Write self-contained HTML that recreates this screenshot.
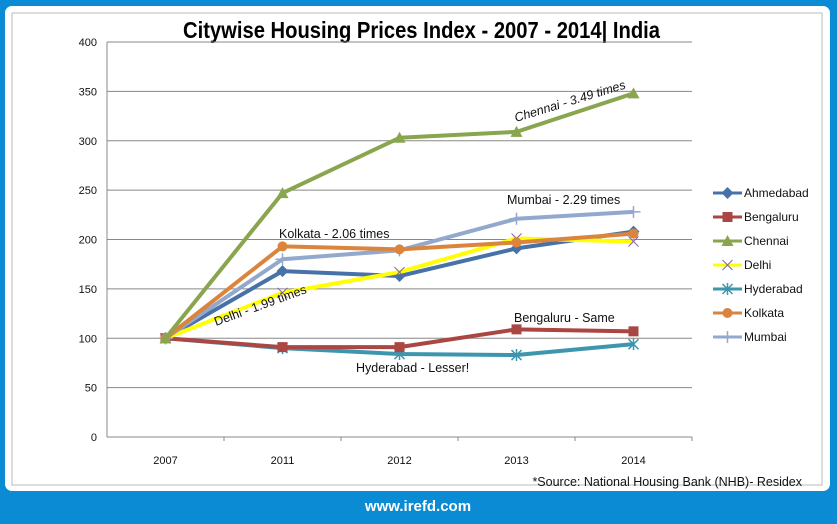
<!DOCTYPE html>
<html><head><meta charset="utf-8"><style>
body{margin:0;width:837px;height:519px;background:#0a8bd3;overflow:hidden;font-family:"Liberation Sans",sans-serif}
</style></head><body>
<svg width="837" height="519" xmlns="http://www.w3.org/2000/svg">
<rect x="5" y="6" width="825" height="485" rx="7" fill="#fff"/>
<rect x="12" y="13" width="810" height="472" fill="none" stroke="#bbb"/>
<text x="183" y="38" textLength="477" lengthAdjust="spacingAndGlyphs" font-family="'Liberation Sans Narrow','Liberation Sans',sans-serif" font-weight="bold" font-size="23" fill="#000">Citywise Housing Prices Index - 2007 - 2014| India</text>
<g id="grid"></g><g id="series"></g><g id="legend"></g>
<text x="802" y="486" text-anchor="end" font-size="12.5" fill="#111">*Source: National Housing Bank (NHB)- Residex</text>
<text x="418" y="511" text-anchor="middle" font-weight="bold" font-size="15" fill="#fff">www.irefd.com</text>
<g font-size="12.5" fill="#111">
<text transform="translate(516,122) rotate(-17)" font-style="italic">Chennai - 3.49 times</text>
<text x="507" y="204">Mumbai - 2.29 times</text>
<text x="279" y="238">Kolkata - 2.06 times</text>
<text transform="translate(216,326) rotate(-20)">Delhi - 1.99 times</text>
<text x="514" y="322">Bengaluru - Same</text>
<text x="356" y="372">Hyderabad - Lesser!</text>
</g>
</svg>
<script>
const categories=["2007","2011","2012","2013","2014"];
const yTicks=[0,50,100,150,200,250,300,350,400];
const ahmedabad=[100,168,163,191,208];
const bengaluru=[100,91,91,109,107];
const chennai=[100,247,303,309,348];
const delhi=[100,146,167,201,198];
const hyderabad=[100,90,84,83,94];
const kolkata=[100,193,190,197,206];
const mumbai=[100,180,189,221,228];
const seriesNames=["Ahmedabad","Bengaluru","Chennai","Delhi","Hyderabad","Kolkata","Mumbai"];
const seriesData=[ahmedabad,bengaluru,chennai,delhi,hyderabad,kolkata,mumbai];
const colors=["#4672a8","#aa4643","#89a54e","#ffff00","#3d96ae","#db843d","#92a8cd"];
const markers=["diamond","square","triangle","x","star","circle","plus"];
const NS="http://www.w3.org/2000/svg";
const L=107,R=692,T=42,B=437,ymax=400;
const cw=(R-L)/categories.length;
const xs=i=>L+cw*(i+0.5);
const ys=v=>B-(v/ymax)*(B-T);
function mk(tag,attrs,parent){const e=document.createElementNS(NS,tag);for(const k in attrs)e.setAttribute(k,attrs[k]);parent.appendChild(e);return e;}
const grid=document.getElementById('grid');
yTicks.forEach(t=>{
  if(t>0){const g=mk('line',{x1:L,x2:R,y1:ys(t),y2:ys(t),stroke:'#888','stroke-width':1},grid);
  
  }
  const tx=mk('text',{x:97,y:ys(t)+4,'text-anchor':'end','font-size':11,fill:'#111'},grid);
  tx.textContent=t;
  
  
});
const ax=mk('line',{x1:L,x2:L,y1:T,y2:B,stroke:'#888'},grid);


const xa=mk('line',{x1:L,x2:R,y1:B,y2:B,stroke:'#888'},grid);


categories.forEach((c,i)=>{
  mk('line',{x1:L+cw*(i+1),x2:L+cw*(i+1),y1:B,y2:B+4,stroke:'#888'},grid);
  const tx=mk('text',{x:xs(i),y:464,'text-anchor':'middle','font-size':11,fill:'#111'},grid);
  tx.textContent=c;
  
  
});
function marker(type,x,y,color,parent){
  const s=5;let e;
  if(type==='diamond')e=mk('polygon',{points:`${x},${y-s-1} ${x+s+1},${y} ${x},${y+s+1} ${x-s-1},${y}`,fill:color},parent);
  else if(type==='square')e=mk('rect',{x:x-s,y:y-s,width:2*s,height:2*s,fill:color},parent);
  else if(type==='triangle')e=mk('polygon',{points:`${x},${y-s-1} ${x+s+1},${y+s} ${x-s-1},${y+s}`,fill:color},parent);
  else if(type==='circle')e=mk('circle',{cx:x,cy:y,r:s,fill:color},parent);
  else if(type==='x')e=mk('path',{d:`M${x-s},${y-s}L${x+s},${y+s}M${x-s},${y+s}L${x+s},${y-s}`,stroke:'#8064a2','stroke-width':1},parent);
  else if(type==='star')e=mk('path',{d:`M${x-s},${y-s}L${x+s},${y+s}M${x-s},${y+s}L${x+s},${y-s}M${x},${y-s-1}L${x},${y+s+1}`,stroke:color,'stroke-width':1.5},parent);
  else e=mk('path',{d:`M${x-s-2},${y}L${x+s+2},${y}M${x},${y-s-1}L${x},${y+s+1}`,stroke:color,'stroke-width':1.5},parent);
  return e;
}
const sg=document.getElementById('series');
const order=[4,1,0,3,6,5,2];
order.forEach(si=>{
  const d=seriesData[si];
  const g=mk('g',{},sg);
  
  
  const p=mk('polyline',{points:d.map((v,i)=>xs(i)+','+ys(v)).join(' '),fill:'none',stroke:colors[si],'stroke-width':4,'stroke-linejoin':'round'},g);
  
  
  d.forEach((v,i)=>{const m=marker(markers[si],xs(i),ys(v),colors[si],g);
    
    });
});
const lg=document.getElementById('legend');
seriesNames.forEach((n,i)=>{
  const y=193+i*24;
  const g=mk('g',{},lg);
  
  
  mk('line',{x1:713,x2:742,y1:y,y2:y,stroke:colors[i],'stroke-width':3},g);
  marker(markers[i],727.5,y,colors[i],g);
  const t=mk('text',{x:744,y:y+4,'font-size':12,fill:'#111'},g);
  t.textContent=n;
});
</script>
</body></html>
